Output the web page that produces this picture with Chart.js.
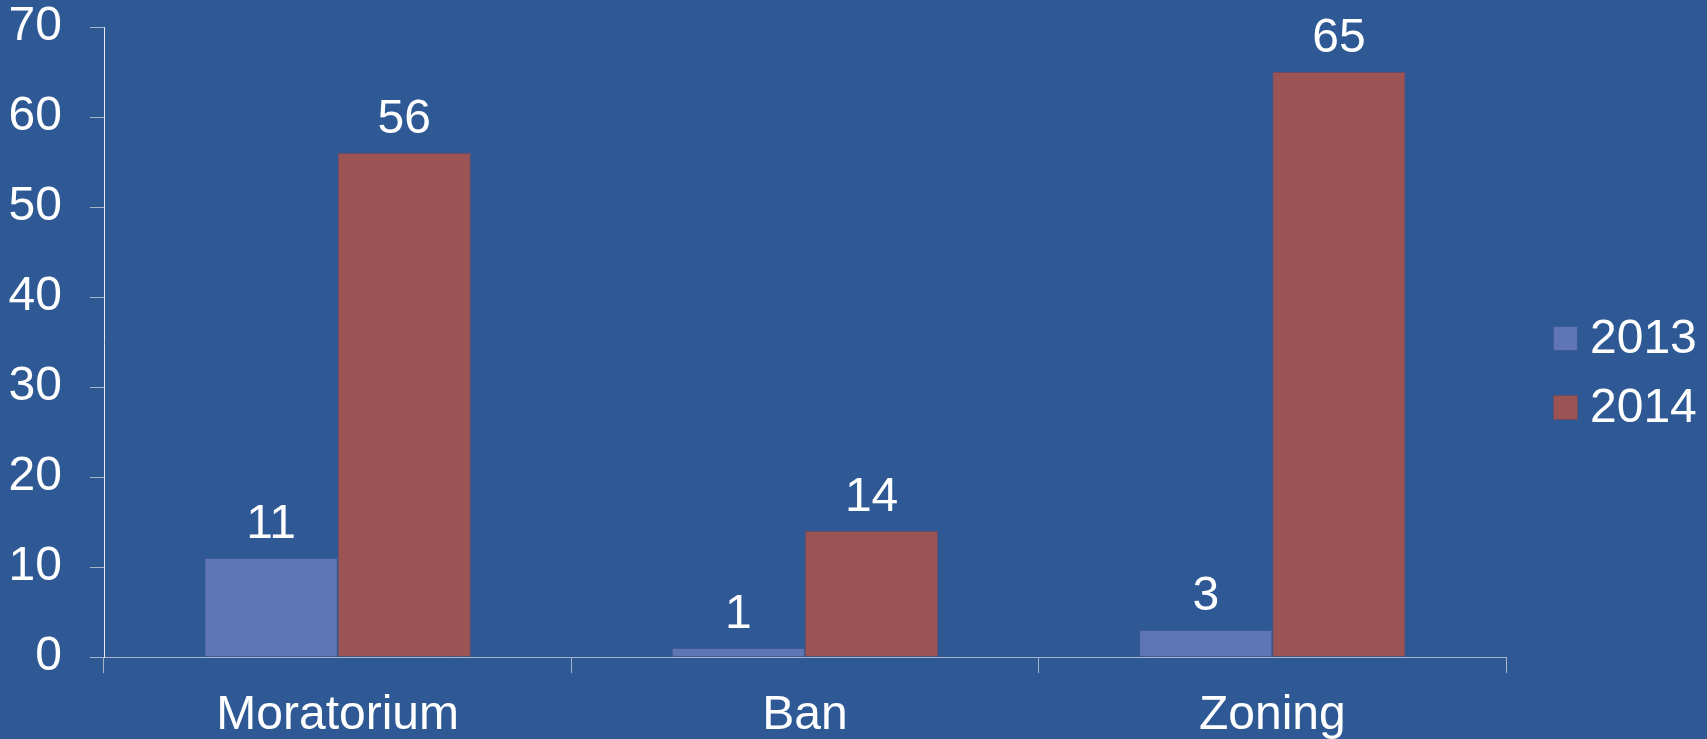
<!DOCTYPE html>
<html>
<head>
<meta charset="utf-8">
<script src="https://cdn.jsdelivr.net/npm/chart.js@4.4.1/dist/chart.umd.min.js"></script>
<style>
    html, body { margin: 0; padding: 0; background: #2e5994; }
    #wrap { width: 1707px; height: 739px; }
</style>
</head>
<body>
<div id="wrap"><canvas id="measuresChart"></canvas></div>
<script>
// Chart data
const categories = ['Moratorium', 'Ban', 'Zoning'];
const seriesNames = ['2013', '2014'];
const values2013 = [11, 1, 3];
const values2014 = [56, 14, 65];
const yTicks = [0, 10, 20, 30, 40, 50, 60, 70];

const FONT = '"Liberation Sans", Arial, sans-serif';

// Value labels above each bar
const valueLabels = {
    id: 'valueLabels',
    afterDatasetsDraw(chart) {
        const ctx = chart.ctx;
        ctx.save();
        ctx.fillStyle = '#ffffff';
        ctx.font = '48px ' + FONT;
        ctx.textAlign = 'center';
        ctx.textBaseline = 'alphabetic';
        chart.data.datasets.forEach((ds, i) => {
            chart.getDatasetMeta(i).data.forEach((bar, j) => {
                ctx.fillText(String(ds.data[j]), bar.x, bar.y - 20);
            });
        });
        ctx.restore();
    }
};

// Simple legend on the right
const sideLegend = {
    id: 'sideLegend',
    afterDraw(chart) {
        const ctx = chart.ctx;
        const left = 1553;
        const rowY = [338, 407];
        ctx.save();
        ctx.font = '48px ' + FONT;
        ctx.textBaseline = 'middle';
        ctx.textAlign = 'left';
        chart.data.datasets.forEach((ds, i) => {
            const y = rowY[i];
            ctx.fillStyle = ds.backgroundColor;
            ctx.fillRect(left, y - 12, 25, 25);
            ctx.strokeStyle = ds.borderColor;
            ctx.lineWidth = 1;
            ctx.strokeRect(left + 0.5, y - 11.5, 24, 24);
            ctx.fillStyle = '#ffffff';
            ctx.fillText(ds.label, left + 37, y + 2);
        });
        ctx.restore();
    }
};

new Chart(document.getElementById('measuresChart'), {
    type: 'bar',
    data: {
        labels: categories,
        datasets: [{
            label: seriesNames[0],
            data: values2013,
            backgroundColor: '#6076b4',
            borderColor: '#3f5a92',
            borderWidth: 1
        }, {
            label: seriesNames[1],
            data: values2014,
            backgroundColor: '#9c5353',
            borderColor: '#6e4a63',
            borderWidth: 1
        }]
    },
    options: {
        responsive: true,
        maintainAspectRatio: false,
        animation: false,
        layout: {
            padding: { left: 0, right: 201, top: 27, bottom: 0 }
        },
        plugins: {
            legend: { display: false },
            tooltip: { enabled: false }
        },
        datasets: {
            bar: {
                categoryPercentage: 0.57,
                barPercentage: 1.0
            }
        },
        scales: {
            x: {
                offset: true,
                grid: {
                    offset: true,
                    drawOnChartArea: false,
                    drawTicks: true,
                    tickLength: 16,
                    color: '#a9b4c8'
                },
                border: { color: '#a9b4c8', width: 1 },
                ticks: {
                    color: '#ffffff',
                    font: { family: FONT, size: 48 },
                    padding: 14,
                    maxRotation: 0
                },
                afterFit(scale) {
                    scale.height = 82;
                    scale.paddingLeft = 0;
                    scale.paddingRight = 0;
                }
            },
            y: {
                min: 0,
                max: 70,
                afterBuildTicks(scale) {
                    scale.ticks = yTicks.map(v => ({ value: v }));
                },
                grid: {
                    drawOnChartArea: false,
                    drawTicks: true,
                    tickLength: 14,
                    color: '#a9b4c8'
                },
                border: { color: '#e8e8e8', width: 1 },
                ticks: {
                    color: '#ffffff',
                    font: { family: FONT, size: 48 },
                    padding: 28
                },
                afterFit(scale) {
                    scale.width = 104;
                    scale.paddingTop = 0;
                    scale.paddingBottom = 0;
                }
            }
        }
    },
    plugins: [valueLabels, sideLegend]
});
</script>
</body>
</html>
